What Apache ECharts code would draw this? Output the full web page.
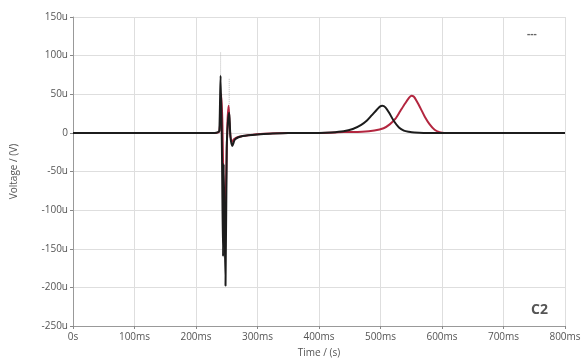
<!DOCTYPE html>
<html>
<head>
<meta charset="utf-8">
<script src="https://cdn.jsdelivr.net/npm/echarts@6/dist/echarts.min.js"></script>
<style>
  body { margin: 0; background: #fff; }
  #chart { width: 586px; height: 364px; }
</style>
</head>
<body>
<div id="chart"></div>
<script>
// time in ms, voltage in uV
var blackT = [0, 100, 200, 230, 236, 238, 240, 242, 244, 245, 248, 250, 252, 254, 256, 259, 263, 268, 276, 285, 300, 320, 350, 400, 420, 440, 455, 468, 478, 486, 494, 499, 503, 508, 514, 522, 530, 538, 546, 555, 570, 600, 650, 700, 750, 800];
var blackV = [0, 0, 0, 0, 1, 3, 74, -10, -160, -40, -198, -20, 15, 26, -5, -17, -9, -6, -4, -3, -2, -1, 0, 0, 0.5, 2, 5, 10, 16, 23, 30, 34, 35, 33, 26, 15, 7, 3, 1.5, 0.5, 0, 0, 0, 0, 0, 0];

var redT = [0, 100, 200, 230, 238, 241, 243, 245, 247, 249, 251, 253, 255, 258, 262, 270, 285, 310, 350, 400, 440, 470, 490, 505, 515, 524, 532, 540, 546, 550, 554, 559, 565, 572, 580, 588, 596, 604, 620, 700, 800];
var redV = [0, 0, 0, 0, 2, 50, 10, -90, -150, -60, 10, 35, 5, -12, -8, -5, -3, -1, 0, 0, 1, 1.5, 3, 6, 11, 18, 28, 38, 45, 48, 47, 41, 32, 21, 11, 4, 1, 0, 0, 0, 0];

// faint dotted markers above the spikes
var markT = [240, 240, 247, 254, 254];
var markV = [104, 74, null, 70, 26];

function pairs(t, v) {
  return t.map(function (x, i) { return [x, v[i] === null ? '-' : v[i]]; });
}

var chart = echarts.init(document.getElementById('chart'));
var option = {
  backgroundColor: '#fff',
  animation: false,
  grid: { left: 73, right: 21, top: 17, bottom: 38 },
  xAxis: {
    type: 'value',
    min: 0,
    max: 800,
    interval: 100,
    name: 'Time / (s)',
    nameLocation: 'middle',
    nameGap: 22,
    nameTextStyle: { color: '#555', fontSize: 10, fontFamily: 'Open Sans' },
    axisLine: { onZero: false, lineStyle: { color: '#999' } },
    axisTick: { show: true, length: 3, lineStyle: { color: '#888' } },
    axisLabel: {
      color: '#555', fontSize: 10, fontFamily: 'Open Sans', margin: 6,
      formatter: function (v) { return v === 0 ? '0s' : v + 'ms'; }
    },
    splitLine: { show: true, lineStyle: { color: '#dedede' } }
  },
  yAxis: {
    type: 'value',
    min: -250,
    max: 150,
    interval: 50,
    name: 'Voltage / (V)',
    nameLocation: 'middle',
    nameGap: 54,
    nameTextStyle: { color: '#555', fontSize: 10, fontFamily: 'Open Sans' },
    axisLine: { show: true, lineStyle: { color: '#999' } },
    axisTick: { show: true, length: 3, lineStyle: { color: '#888' } },
    axisLabel: {
      color: '#555', fontSize: 10, fontFamily: 'Open Sans', margin: 5,
      formatter: function (v) { return v === 0 ? '0' : v + 'u'; }
    },
    splitLine: { show: true, lineStyle: { color: '#dedede' } }
  },
  series: [
    {
      type: 'line',
      data: pairs(markT, markV),
      showSymbol: false,
      connectNulls: false,
      lineStyle: { color: '#bbb', width: 1, type: 'dotted' }
    },
    {
      type: 'line',
      data: pairs(redT, redV),
      showSymbol: false,
      smooth: 0.25,
      lineStyle: { color: '#b3263f', width: 2 }
    },
    {
      type: 'line',
      data: pairs(blackT, blackV),
      showSymbol: false,
      smooth: 0.25,
      lineStyle: { color: '#1c1c1c', width: 2 }
    }
  ],
  graphic: [
    { type: 'text', left: 527, top: 29, style: { text: '---', fill: '#666', fontSize: 10, fontWeight: 'bold', fontFamily: 'Open Sans' } },
    { type: 'text', left: 531, top: 303, style: { text: 'C2', fill: '#555', fontSize: 14, fontWeight: 'bold', fontFamily: 'Open Sans' } }
  ]
};
chart.setOption(option);
</script>
</body>
</html>
